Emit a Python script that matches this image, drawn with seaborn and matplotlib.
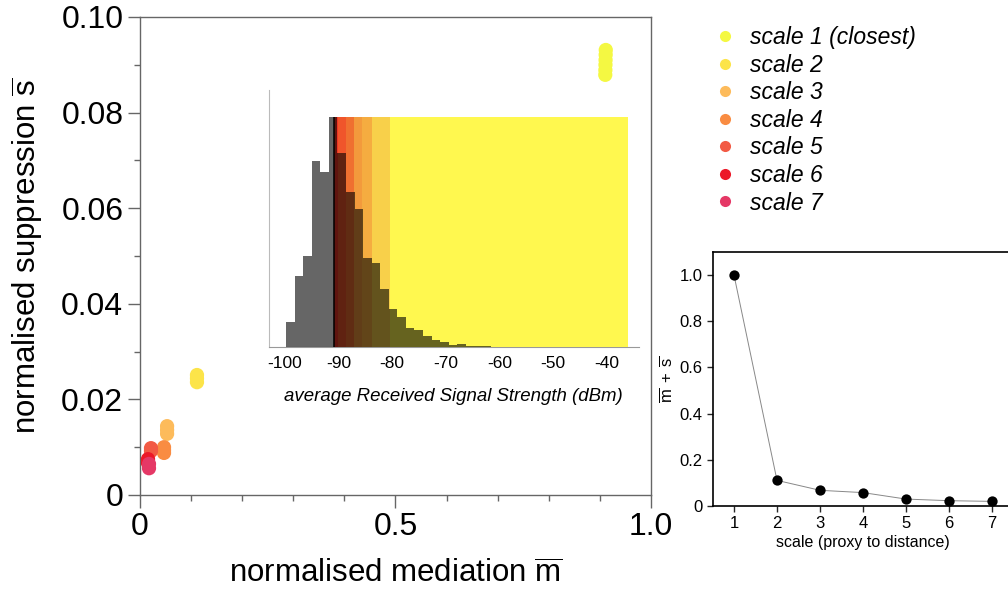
import numpy as np
import pandas as pd
import matplotlib
matplotlib.use("Agg")
import matplotlib.pyplot as plt
from matplotlib.lines import Line2D
from matplotlib.ticker import MultipleLocator
import seaborn as sns

# ---------------- data ----------------
scale_labels = ["scale 1 (closest)", "scale 2", "scale 3", "scale 4",
                "scale 5", "scale 6", "scale 7"]
scale_colors = ["#F4F842", "#FCE449", "#FDBB5B", "#F98C42",
                "#F25A44", "#EC1828", "#E53866"]

# normalised mediation / suppression samples per scale (stacked blobs)
m_scale1 = [0.9115, 0.9113, 0.9111, 0.9109, 0.9107, 0.9105]
s_scale1 = [0.0931, 0.0921, 0.0910, 0.0900, 0.0889, 0.0879]
m_scale2 = [0.1115, 0.1115, 0.1115]
s_scale2 = [0.0251, 0.0244, 0.0236]
m_scale3 = [0.053, 0.053, 0.053]
s_scale3 = [0.0144, 0.0136, 0.0128]
m_scale4 = [0.047, 0.047, 0.047]
s_scale4 = [0.0100, 0.0094, 0.0088]
m_scale5 = [0.0215, 0.0215]
s_scale5 = [0.0098, 0.0092]
m_scale6 = [0.0157, 0.0157]
s_scale6 = [0.0075, 0.0067]
m_scale7 = [0.0176, 0.0176]
s_scale7 = [0.0065, 0.0056]

# inset histogram of average RSS (relative counts)
rss_range = [-99.8, -35.95]
rss_counts = [107, 308, 396, 808, 761, 1000, 841, 674, 598, 385,
              366, 252, 165, 129, 81, 74, 48, 30, 23, 9,
              13, 6, 3, 3, 2, 2, 1, 1, 0, 0,
              0, 0, 0, 0, 0, 0, 0, 0, 0, 0]
band_edges = [-90.86, -90.06, -88.62, -87.13, -85.69, -83.82, -80.41, -35.95]
band_colors = ["#EE3323", "#F0552B", "#F07030", "#F39A3C",
               "#F5AC40", "#F8D04A", "#FFF84F"]
inset_ticks = [-100, -90, -80, -70, -60, -50, -40]

# right panel: m + s per scale
scale_index = [1, 2, 3, 4, 5, 6, 7]
m_plus_s = [1.0, 0.111, 0.068, 0.058, 0.030, 0.023, 0.020]

# ---------------- style ----------------
sns.set_style("ticks")
plt.rcParams["font.family"] = ["Liberation Sans", "DejaVu Sans"]
plt.rcParams["mathtext.fontset"] = "custom"
plt.rcParams["mathtext.rm"] = "Liberation Sans"
plt.rcParams["mathtext.it"] = "Liberation Sans:italic"
plt.rcParams["text.color"] = "black"
plt.rcParams["axes.labelcolor"] = "black"
plt.rcParams["xtick.labelcolor"] = "black"
plt.rcParams["ytick.labelcolor"] = "black"

fig = plt.figure(figsize=(10.08, 5.9), dpi=100)

# ---------------- main scatter ----------------
ax = fig.add_axes([140/1008, 1-495/590, 511/1008, 478/590])
m_all = [m_scale1, m_scale2, m_scale3, m_scale4, m_scale5, m_scale6, m_scale7]
s_all = [s_scale1, s_scale2, s_scale3, s_scale4, s_scale5, s_scale6, s_scale7]
rows = []
for lab, ms, ss in zip(scale_labels, m_all, s_all):
    for mv, sv in zip(ms, ss):
        rows.append((lab, mv, sv))
df = pd.DataFrame(rows, columns=["scale", "m", "s"])
sns.scatterplot(data=df, x="m", y="s", hue="scale",
                hue_order=scale_labels[::-1], palette=scale_colors[::-1],
                s=105, linewidth=0, legend=False, ax=ax, zorder=3)
ax.set_xlim(0, 1.0)
ax.set_ylim(0, 0.1)
ax.set_xticks([0, 0.5, 1.0])
ax.set_xticklabels(["0", "0.5", "1.0"])
ax.set_yticks([0, 0.02, 0.04, 0.06, 0.08, 0.10])
ax.set_yticklabels(["0", "0.02", "0.04", "0.06", "0.08", "0.10"])
ax.xaxis.set_minor_locator(MultipleLocator(0.1))
ax.yaxis.set_minor_locator(MultipleLocator(0.01))
for sp in ax.spines.values():
    sp.set_color("#666666")
    sp.set_linewidth(1.0)
ax.tick_params(which="major", direction="out", length=9, width=1.0,
               color="#666666", labelsize=23, pad=3)
ax.tick_params(which="minor", direction="out", length=4.5, width=1.0,
               color="#666666")
ax.set_xlabel(r"normalised mediation $\overline{\mathrm{m}}$", fontsize=22.5,
              labelpad=13)
ax.set_ylabel(r"normalised suppression $\overline{\mathrm{s}}$", fontsize=22.5,
              labelpad=12)

# legend
handles = [Line2D([], [], marker="o", linestyle="", markersize=8,
                  markerfacecolor=c, markeredgecolor="none") for c in scale_colors]
fig.legend(handles, scale_labels, loc="upper left",
           bbox_to_anchor=(714/1008, 1-26/590), frameon=False,
           prop={"style": "italic", "size": 16.5}, borderpad=0,
           borderaxespad=0, handlelength=1.0, handletextpad=0.55,
           labelspacing=0.2)

# ---------------- inset histogram ----------------
ax_in = fig.add_axes([268.9/1008, 1-347/590, 369.9/1008, 257/590])
ax_in.set_facecolor("none")
ymax_in = 1116
for lo, hi, c in zip(band_edges[:-1], band_edges[1:], band_colors):
    ax_in.axvspan(lo, hi, ymin=0, ymax=1000/ymax_in, color=c, lw=0, zorder=1)
ax_in.vlines(band_edges[1:-1], 0, 1000, colors="black", alpha=0.3, lw=0.9, zorder=2)
ax_in.vlines([band_edges[0]], 0, 1000, colors="black", lw=1.1, zorder=4)
edges = np.linspace(rss_range[0], rss_range[1], len(rss_counts) + 1)
centers = (edges[:-1] + edges[1:]) / 2
hist_df = pd.DataFrame({"rss": centers, "count": rss_counts})
sns.histplot(data=hist_df, x="rss", weights="count", bins=list(edges),
             color="black", alpha=0.6, linewidth=0, ax=ax_in)
for p in ax_in.patches:
    p.set_zorder(3)
ax_in.set_xlim(-103, -34)
ax_in.set_ylim(0, ymax_in)
ax_in.set_yticks([])
ax_in.set_ylabel("")
ax_in.set_xticks(inset_ticks)
ax_in.set_xticklabels([str(t) for t in inset_ticks])
ax_in.tick_params(axis="x", length=0, labelsize=12.5, pad=6.5)
ax_in.spines["top"].set_visible(False)
ax_in.spines["right"].set_visible(False)
ax_in.spines["left"].set_color("#bbbbbb")
ax_in.spines["bottom"].set_color("#999999")
ax_in.set_xlabel("average Received Signal Strength (dBm)", fontsize=13.4,
                 style="italic", labelpad=12)

# ---------------- right panel ----------------
ax_r = fig.add_axes([712.5/1008, 1-506/590, 301/1008, 254/590])
sns.lineplot(x=scale_index, y=m_plus_s, color="#888888", lw=0.7, ax=ax_r, zorder=2)
sns.scatterplot(x=scale_index, y=m_plus_s, color="black", s=55, linewidth=0,
                ax=ax_r, zorder=3)
ax_r.set_xlim(0.5, 7.5)
ax_r.set_ylim(0, 1.1)
ax_r.set_xticks(scale_index)
ax_r.set_yticks([0, 0.2, 0.4, 0.6, 0.8, 1.0])
ax_r.set_yticklabels(["0", "0.2", "0.4", "0.6", "0.8", "1.0"])
for sp in ax_r.spines.values():
    sp.set_color("black")
    sp.set_linewidth(1.2)
ax_r.tick_params(direction="out", length=4, width=1.0, labelsize=12, pad=3)
ax_r.set_xlabel("scale (proxy to distance)", fontsize=11.5, labelpad=3)
ax_r.set_ylabel(r"$\overline{\mathrm{m}}\;+\;\overline{\mathrm{s}}$", fontsize=12,
                labelpad=3)

fig.savefig("out.png", dpi=100)
